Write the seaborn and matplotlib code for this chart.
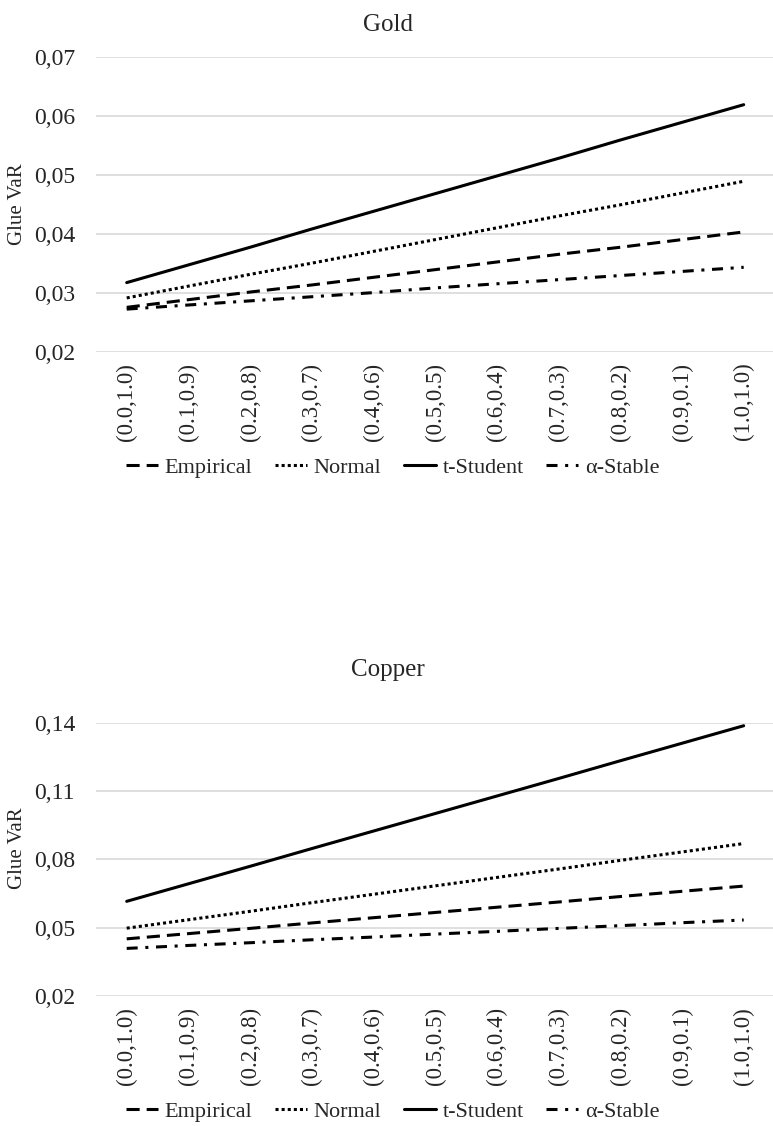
import numpy as np
import pandas as pd
import matplotlib
matplotlib.use("Agg")
import matplotlib.pyplot as plt
import seaborn as sns
from matplotlib.ticker import FixedLocator, FuncFormatter

# Category labels on the x axis
weights = ['(0.0,1.0)', '(0.1,0.9)', '(0.2,0.8)', '(0.3,0.7)', '(0.4,0.6)', '(0.5,0.5)',
           '(0.6,0.4)', '(0.7,0.3)', '(0.8,0.2)', '(0.9,0.1)', '(1.0,1.0)']
series_names = ['Empirical', 'Normal', 't-Student', 'α-Stable']

# Gold
gold_empirical = [0.0275, 0.0288, 0.0301, 0.0313, 0.0326, 0.0339, 0.0352, 0.0365, 0.0377, 0.0390, 0.0403]
gold_normal = [0.0291, 0.0311, 0.0331, 0.0350, 0.0370, 0.0390, 0.0410, 0.0430, 0.0449, 0.0469, 0.0489]
gold_tstudent = [0.0317, 0.0347, 0.0377, 0.0408, 0.0438, 0.0468, 0.0498, 0.0528, 0.0559, 0.0589, 0.0619]
gold_stable = [0.0272, 0.0279, 0.0286, 0.0293, 0.0300, 0.0308, 0.0315, 0.0322, 0.0329, 0.0336, 0.0343]
gold_yticks = [0.02, 0.03, 0.04, 0.05, 0.06, 0.07]

# Copper
copper_empirical = [0.0451, 0.0474, 0.0497, 0.0521, 0.0544, 0.0567, 0.0590, 0.0613, 0.0637, 0.0660, 0.0683]
copper_normal = [0.0498, 0.0535, 0.0572, 0.0610, 0.0647, 0.0684, 0.0721, 0.0758, 0.0796, 0.0833, 0.0870]
copper_tstudent = [0.0616, 0.0693, 0.0770, 0.0848, 0.0925, 0.1002, 0.1079, 0.1156, 0.1234, 0.1311, 0.1388]
copper_stable = [0.0409, 0.0422, 0.0434, 0.0447, 0.0459, 0.0472, 0.0484, 0.0497, 0.0509, 0.0522, 0.0534]
copper_yticks = [0.02, 0.05, 0.08, 0.11, 0.14]


def long_frame(empirical, normal, tstudent, stable):
    frames = []
    for name, vals in zip(series_names, [empirical, normal, tstudent, stable]):
        frames.append(pd.DataFrame({'weights': weights, 'value': vals, 'series': name}))
    return pd.concat(frames, ignore_index=True)


sns.set_style('white')
plt.rcParams['font.family'] = ['Liberation Serif', 'DejaVu Serif']

dash_styles = {'Empirical': (4.3, 2.3), 'Normal': (1, 1), 't-Student': '', 'α-Stable': (3.6, 2.5, 1, 2.5)}
palette = {name: 'black' for name in series_names}

fig = plt.figure(figsize=(7.73, 11.26), dpi=100)
ax_gold = fig.add_axes([0.124, 0.6878, 0.878, 0.2616])
ax_copper = fig.add_axes([0.124, 0.1155, 0.878, 0.2424])

panels = [
    (ax_gold, long_frame(gold_empirical, gold_normal, gold_tstudent, gold_stable), gold_yticks,
     'Gold', 0.9725, 0.5844, 0.5),
    (ax_copper, long_frame(copper_empirical, copper_normal, copper_tstudent, copper_stable), copper_yticks,
     'Copper', 0.3996, 0.0125, 0.54),
]

for ax, df, yticks, title, title_y, legend_y, ylabel_y in panels:
    sns.lineplot(data=df, x='weights', y='value', hue='series', style='series',
                 hue_order=series_names, style_order=series_names,
                 palette=palette, dashes=dash_styles, linewidth=2.2, sort=False, ax=ax)
    handles, labels = ax.get_legend_handles_labels()
    ax.get_legend().remove()

    ax.set_xlim(-0.5, len(weights) - 0.5)
    ax.set_ylim(yticks[0], yticks[-1])
    ax.yaxis.set_major_locator(FixedLocator(yticks))
    ax.yaxis.set_major_formatter(FuncFormatter(lambda v, p: f'{v:.2f}'.replace('.', ',')))
    ax.grid(axis='y', color='#d9d9d9', linewidth=1.2)
    ax.grid(axis='x', visible=False)
    for s in ax.spines.values():
        s.set_visible(False)
    ax.tick_params(axis='y', length=0, pad=15, labelsize=17)
    ax.tick_params(axis='x', length=0, pad=8, labelsize=16.5, rotation=90)
    ax.set_xlabel('')
    ax.set_ylabel('Glue VaR', fontsize=15)
    ax.yaxis.set_label_coords(-0.102, ylabel_y)

    fig.text(0.502, title_y, title, ha='center', va='baseline', fontsize=18)
    fig.legend(handles, labels, loc='center', bbox_to_anchor=(0.508, legend_y), ncol=4,
               frameon=False, fontsize=16, handlelength=1.45, handletextpad=0.3,
               columnspacing=1.0)

fig.savefig('out.png', dpi=100)
